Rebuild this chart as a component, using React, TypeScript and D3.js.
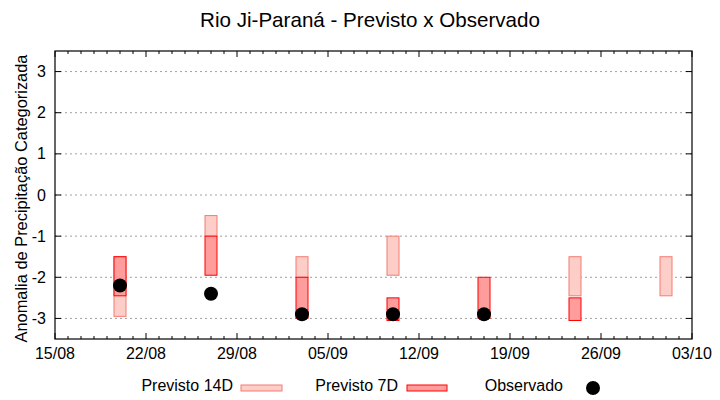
import React from "react";
import * as d3 from "d3";

const dates = ["2021-08-20", "2021-08-27", "2021-09-03", "2021-09-10", "2021-09-17", "2021-09-24", "2021-10-01"];
const p14Top: (number | null)[] = [-1.5, -0.5, -1.5, -1.0, null, -1.5, -1.5];
const p14Bottom: (number | null)[] = [-2.95, -1.0, -2.0, -1.95, null, -2.45, -2.45];
const p7Top: (number | null)[] = [-1.5, -1.0, -2.0, -2.5, -2.0, -2.5, null];
const p7Bottom: (number | null)[] = [-2.45, -1.95, -3.0, -3.05, -3.0, -3.05, null];
const observed: (number | null)[] = [-2.2, -2.4, -2.9, -2.9, -2.9, null, null];
const yTicks = [-3, -2, -1, 0, 1, 2, 3];
const xStart = "2021-08-15";
const xEnd = "2021-10-03";
const title = "Rio Ji-Paraná - Previsto x Observado";
const yLabel = "Anomalia de Precipitação Categorizada";
const legendLabels = ["Previsto 14D", "Previsto 7D", "Observado"];

const W = 720, H = 400;
const L = 55, R = 692, T = 51, B = 339;
const FONT = "'Liberation Sans', Arial, sans-serif";
const c14Fill = "#fdcdc7", c14Stroke = "#f47d74";
const c7Fill = "#ff9d9d", c7Stroke = "#ff0000";

export default function App() {
  const parse = d3.utcParse("%Y-%m-%d");
  const x = d3.scaleUtc().domain([parse(xStart)!, parse(xEnd)!]).range([L, R]);
  const y = d3.scaleLinear().domain([-3.5, 3.5]).range([B, T]);
  const fmt = d3.utcFormat("%d/%m");
  const days = d3.utcDays(parse(xStart)!, d3.utcDay.offset(parse(xEnd)!, 1));
  const majorTicks = days.filter((_, i) => i % 7 === 0);
  const bw = 12;

  return (
    <svg width={W} height={H} style={{ display: "block", position: "absolute", left: 0, top: 0 }} fontFamily={FONT}>
      <rect x={0} y={0} width={W} height={H} fill="#fff" />
      <text x={370} y={27} textAnchor="middle" fontSize={20.6} fill="#000">{title}</text>
      {yTicks.map((t) => (
        <line key={"g" + t} x1={L} x2={R} y1={y(t)} y2={y(t)} stroke="#a0a0a0" strokeWidth={1} strokeDasharray="2,3" />
      ))}
      {days.map((d, i) => {
        const isMajor = i % 7 === 0;
        const len = isMajor ? 6 : 3;
        return (
          <g key={"d" + i}>
            <line x1={x(d)} x2={x(d)} y1={B} y2={B - len} stroke="#000" />
            <line x1={x(d)} x2={x(d)} y1={T} y2={T + len} stroke="#000" />
          </g>
        );
      })}
      {majorTicks.map((d, i) => (
        <text key={"xl" + i} x={x(d)} y={359} textAnchor="middle" fontSize={16} fill="#000">{fmt(d)}</text>
      ))}
      {yTicks.map((t) => (
        <g key={"yt" + t}>
          <line x1={L} x2={L + 6} y1={y(t)} y2={y(t)} stroke="#000" />
          <line x1={R} x2={R - 6} y1={y(t)} y2={y(t)} stroke="#000" />
          <text x={46} y={y(t) + 5.5} textAnchor="end" fontSize={16} fill="#000">{t}</text>
        </g>
      ))}
      <text transform={`translate(27,198.5) rotate(-90)`} textAnchor="middle" fontSize={16.4} fill="#000">{yLabel}</text>
      {dates.map((ds, i) => {
        const t = p14Top[i], b = p14Bottom[i];
        if (t == null || b == null) return null;
        const cx = x(parse(ds)!);
        return <rect key={"a" + i} x={cx - bw / 2} y={y(t)} width={bw} height={y(b) - y(t)} fill={c14Fill} stroke={c14Stroke} strokeWidth={1} />;
      })}
      {dates.map((ds, i) => {
        const t = p7Top[i], b = p7Bottom[i];
        if (t == null || b == null) return null;
        const cx = x(parse(ds)!);
        return <rect key={"b" + i} x={cx - bw / 2} y={y(t)} width={bw} height={y(b) - y(t)} fill={c7Fill} stroke={c7Stroke} strokeWidth={1} />;
      })}
      {dates.map((ds, i) => {
        const v = observed[i];
        if (v == null) return null;
        return <circle key={"o" + i} cx={x(parse(ds)!)} cy={y(v)} r={7} fill="#000" />;
      })}
      <rect x={L} y={T} width={R - L} height={B - T} fill="none" stroke="#000" strokeWidth={1.2} />
      <text x={233} y={391} textAnchor="end" fontSize={16} fill="#000">{legendLabels[0]}</text>
      <rect x={241} y={385} width={41} height={6} fill={c14Fill} stroke={c14Stroke} strokeWidth={1} />
      <text x={398} y={391} textAnchor="end" fontSize={16} fill="#000">{legendLabels[1]}</text>
      <rect x={407} y={385} width={40} height={6} fill={c7Fill} stroke={c7Stroke} strokeWidth={1} />
      <text x={563} y={391} textAnchor="end" fontSize={16} fill="#000">{legendLabels[2]}</text>
      <circle cx={593} cy={388} r={7} fill="#000" />
    </svg>
  );
}
